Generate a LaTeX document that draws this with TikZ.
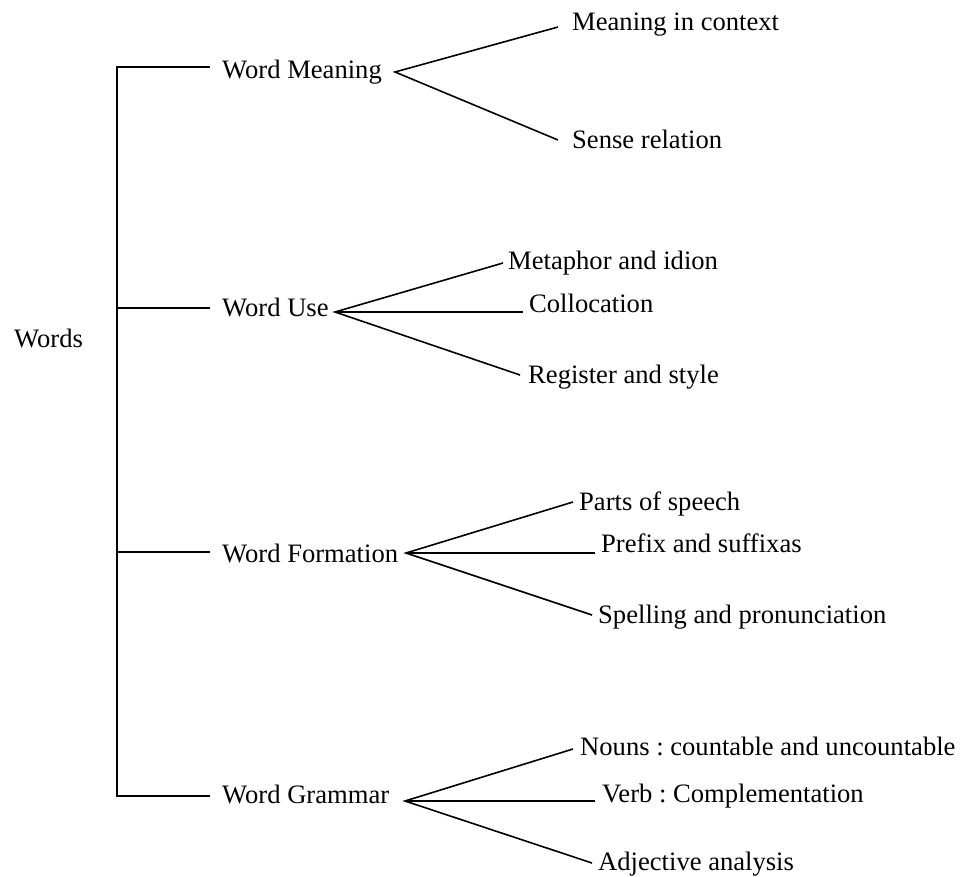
\documentclass[tikz,border=0pt]{standalone}
\usepackage{fontspec}
\setmainfont{Liberation Serif}
\begin{document}
\frenchspacing
\begin{tikzpicture}[x=1pt,y=-1pt,
  lbl/.style={anchor=base west,inner sep=0pt,font=\fontsize{26.6}{30}\selectfont},
  conn/.style={line width=1.6pt,line join=miter}]
\useasboundingbox (0,0) rectangle (961,876);
% labels
\node[lbl] (words) at (14,347) {Words};
\node[lbl] (wm) at (222,78) {Word Meaning};
\node[lbl] (wu) at (222,316) {Word Use};
\node[lbl] (wf) at (222,562) {Word Formation};
\node[lbl] (wg) at (222,803) {Word Grammar};
\node[lbl] (mic) at (572,30) {Meaning in context};
\node[lbl] (sr) at (572,148) {Sense relation};
\node[lbl] (mi) at (508,269) {Metaphor and idion};
\node[lbl] (co) at (529,312) {Collocation};
\node[lbl] (rs) at (528,383) {Register and style};
\node[lbl] (ps) at (579,510) {Parts of speech};
\node[lbl] (pf) at (601,552) {Prefix and suffixas};
\node[lbl] (sp) at (598,623) {Spelling and pronunciation};
\node[lbl] (nc) at (580,755) {Nouns : countable and uncountable};
\node[lbl] (vc) at (602,802) {Verb : Complementation};
\node[lbl] (aa) at (598,870) {Adjective analysis};
% bracket coordinates
\coordinate (bt) at (117,67);
\coordinate (bu) at (117,308);
\coordinate (bf) at (117,552);
\coordinate (bb) at (117,796);
\coordinate (em) at (210,67);
\coordinate (eu) at (210,308);
\coordinate (ef) at (210,552);
\coordinate (eg) at (210,796);
% fork points
\coordinate (fm) at (395,72);
\coordinate (fu) at (335,312);
\coordinate (ff) at (406,553);
\coordinate (fg) at (405,801);
% branch ends
\coordinate (tmic) at (558,27);
\coordinate (tsr) at (558,140);
\coordinate (tmi) at (503,263);
\coordinate (tco) at (523,312);
\coordinate (trs) at (520,375);
\coordinate (tps) at (573,502);
\coordinate (tpf) at (595,553);
\coordinate (tsp) at (592,615);
\coordinate (tnc) at (573,749);
\coordinate (tvc) at (595,801);
\coordinate (taa) at (592,863);
% connectors
\draw[conn] (em) -- (bt) -- (bb) -- (eg);
\draw[conn] (bu) -- (eu);
\draw[conn] (bf) -- (ef);
\draw[conn] (tmic) -- (fm) -- (tsr);
\draw[conn] (tmi) -- (fu) -- (trs);
\draw[conn] (fu) -- (tco);
\draw[conn] (tps) -- (ff) -- (tsp);
\draw[conn] (ff) -- (tpf);
\draw[conn] (tnc) -- (fg) -- (taa);
\draw[conn] (fg) -- (tvc);
\end{tikzpicture}
\end{document}
